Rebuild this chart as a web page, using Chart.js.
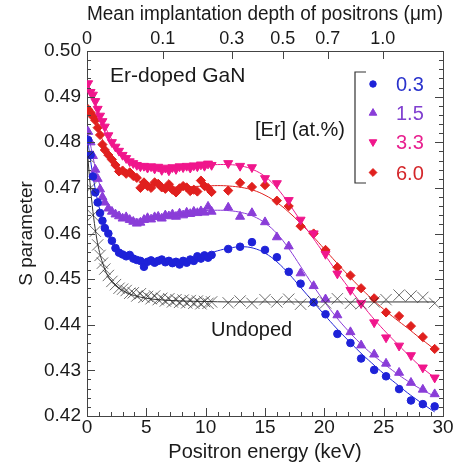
<!DOCTYPE html>
<html><head><meta charset="utf-8">
<script src="https://cdn.jsdelivr.net/npm/chart.js@4"></script>
<style>html,body{margin:0;padding:0;background:#fff}#c{display:block}</style>
</head><body>
<canvas id="c" width="466" height="466"></canvas>
<script>
// ---------- data ----------
const energies = [0.1,0.3,0.5,0.7,0.9,1.1,1.3,1.5,1.8,2.1,2.4,2.7,3.0,3.3,3.6,3.9,4.2,4.5,4.8,5.1,5.4,5.7,6.0,6.3,6.6,6.9,7.2,7.5,7.8,8.1,8.4,8.7,9.0,9.3,9.6,9.9,10.2,10.5,
  11.9,12.9,13.9,15.0,16.0,17.0,18.0,19.1,20.1,21.1,22.2,23.1,24.2,25.2,26.3,27.3,28.3,29.3];
const sEr03 = [0.4805,0.4772,0.4725,0.4690,0.4668,0.4645,0.4628,0.4612,0.4600,0.4584,0.4568,0.4558,0.4554,0.4550,0.4553,0.4545,0.4542,0.4540,0.4527,0.4538,0.4541,0.4536,0.4540,0.4543,0.4537,0.4540,0.4535,0.4538,0.4532,0.4540,0.4536,0.4543,0.4540,0.4550,0.4545,0.4552,0.4547,0.4553,
  0.4566,0.4571,0.4581,0.4564,0.4548,0.4516,0.4490,0.4449,0.4423,0.4380,0.4360,0.4326,0.4301,0.4287,0.4259,0.4234,0.4226,0.4221];
const sEr15 = [0.4823,0.4800,0.4770,0.4740,0.4720,0.4697,0.4680,0.4668,0.4655,0.4648,0.4642,0.4638,0.4633,0.4636,0.4630,0.4626,0.4622,0.4624,0.4630,0.4634,0.4631,0.4636,0.4637,0.4633,0.4640,0.4638,0.4642,0.4637,0.4644,0.4640,0.4646,0.4643,0.4648,0.4645,0.4649,0.4646,0.4659,0.4648,
  0.4657,0.4637,0.4645,0.4625,0.4592,0.4572,0.4513,0.4485,0.4456,0.4421,0.4384,0.4355,0.4335,0.4315,0.4295,0.4273,0.4258,0.4248];
const sEr33 = [0.4929,0.4910,0.4904,0.4890,0.4873,0.4858,0.4846,0.4834,0.4815,0.4800,0.4790,0.4781,0.4772,0.4765,0.4758,0.4754,0.4750,0.4747,0.4748,0.4744,0.4747,0.4742,0.4746,0.4739,0.4744,0.4738,0.4745,0.4741,0.4747,0.4745,0.4748,0.4744,0.4749,0.4747,0.4751,0.4748,0.4753,0.4750,
  0.4754,0.4748,0.4745,0.4721,0.4710,0.4673,0.4630,0.4600,0.4555,0.4512,0.4476,0.4447,0.4405,0.4372,0.4354,0.4333,0.4306,0.4284];
const sEr60 = [0.4872,0.4865,0.4856,0.4848,0.4832,0.4816,0.4795,0.4783,0.4772,0.4762,0.4750,0.4736,0.4738,0.4731,0.4734,0.4726,0.4722,0.4700,0.4712,0.4704,0.4700,0.4712,0.4709,0.4701,0.4698,0.4708,0.4696,0.4690,0.4699,0.4704,0.4701,0.4693,0.4696,0.4692,0.4716,0.4704,0.4700,0.4691,
  0.4694,0.4711,0.4702,0.4706,0.4672,0.4660,0.4616,0.4600,0.4564,0.4526,0.4508,0.4480,0.4458,0.4427,0.4419,0.4397,0.4373,0.4347];
const sUndoped = [0.4768,0.4700,0.4640,0.4605,0.4575,0.4552,0.4535,0.4522,0.4508,0.4495,0.4488,0.4480,0.4478,0.4475,0.4469,0.4470,0.4463,0.4468,0.4460,0.4462,0.4457,0.4463,0.4455,0.4458,0.4452,0.4457,0.4450,0.4455,0.4449,0.4454,0.4448,0.4453,0.4447,0.4452,0.4446,0.4451,0.4447,0.4450,
  0.4448,0.4452,0.4447,0.4455,0.4450,0.4456,0.4445,0.4451,0.4448,0.4457,0.4447,0.4446,0.4450,0.4455,0.4465,0.4463,0.4460,0.4447];

const fitEnergies = [0,0.5,1,1.5,2,3,4,5,6,7,8,9,10,11,12,13,14,15,16,17,18,19,20,21,22,23,24,25,26,27,28,29,29.3];
const fitEr03 = [0.4815,0.4727,0.4660,0.4617,0.4587,0.4557,0.4544,0.4539,0.4538,0.4539,0.4542,0.4547,0.4554,0.4562,0.4568,0.4571,0.4568,0.4557,0.4538,0.4512,0.4482,0.4452,0.4422,0.4393,0.4366,0.4340,0.4316,0.4293,0.4272,0.4251,0.4232,0.4214,0.4209];
const fitEr15 = [0.4835,0.4768,0.4713,0.4678,0.4656,0.4638,0.4632,0.4632,0.4635,0.4639,0.4643,0.4647,0.4650,0.4651,0.4650,0.4646,0.4638,0.4623,0.4600,0.4567,0.4528,0.4488,0.4451,0.4417,0.4387,0.4360,0.4336,0.4315,0.4295,0.4277,0.4261,0.4247,0.4243];
const fitEr33 = [0.4935,0.4900,0.4866,0.4836,0.4810,0.4773,0.4756,0.4748,0.4745,0.4745,0.4746,0.4748,0.4750,0.4751,0.4751,0.4748,0.4740,0.4725,0.4700,0.4666,0.4628,0.4592,0.4555,0.4518,0.4483,0.4450,0.4418,0.4389,0.4362,0.4336,0.4311,0.4290,0.4284];
const fitEr60 = [0.4880,0.4853,0.4823,0.4795,0.4770,0.4738,0.4720,0.4710,0.4705,0.4702,0.4702,0.4703,0.4704,0.4705,0.4704,0.4701,0.4695,0.4684,0.4668,0.4647,0.4622,0.4595,0.4566,0.4537,0.4509,0.4482,0.4457,0.4434,0.4413,0.4393,0.4372,0.4352,0.4345];
const fitUndopedEnergies = [0,0.25,0.5,0.75,1,1.5,2,3,4,5,6,8,10,12,29.3];
const fitUndoped = [0.4790,0.4712,0.4648,0.4600,0.4565,0.4522,0.4497,0.4475,0.4464,0.4458,0.4455,0.4452,0.4451,0.4450,0.4450];

const depthTickEnergies = [0,6.38,12.19,16.49,20.28,24.92];
const depthTickLabels = ['0','0.1','0.3','0.5','0.7','1.0'];
const legendLabels = ['0.3','1.5','3.3','6.0'];

// ---------- styling ----------
const FONT = "'Liberation Sans', Arial, Helvetica, sans-serif";
const TXT = '#1a1a1a';
const AX = '#444';
const cBlue = '#1e22d8', cPurple = '#8a3dd8', cMag = '#f0168c', cRed = '#e0201e', cBlack = '#333333';
const legendTextColors = ['#2a33cc','#8040d0','#e8208f','#d4262a'];

const pts = (xs, ys) => xs.map((x, i) => ({x, y: ys[i]}));

const markerStyles = [
  {pointStyle:'circle', radius:3.8, rotation:0, backgroundColor:cBlue, borderColor:cBlue, borderWidth:1},
  {pointStyle:'triangle', radius:5.2, rotation:0, backgroundColor:cPurple, borderColor:cPurple, borderWidth:1},
  {pointStyle:'triangle', radius:5.2, rotation:180, backgroundColor:cMag, borderColor:cMag, borderWidth:1},
  {pointStyle:'rectRot', radius:4.6, rotation:0, backgroundColor:cRed, borderColor:cRed, borderWidth:1}
];

function fitSet(xs, ys, color, mono) {
  return {data: pts(xs, ys), showLine: true, pointRadius: 0, borderColor: color, borderWidth: 1,
          tension: 0.4, cubicInterpolationMode: mono ? 'monotone' : 'default', fill: false, order: 2};
}
function pointSet(ys, m) {
  return {data: pts(energies, ys), showLine: false, pointStyle: m.pointStyle, pointRadius: m.radius,
          pointRotation: m.rotation, backgroundColor: m.backgroundColor, borderColor: m.borderColor,
          pointBorderWidth: m.borderWidth, order: 1};
}

const datasets = [
  fitSet(fitUndopedEnergies, fitUndoped, cBlack, true),
  fitSet(fitEnergies, fitEr03, cBlue),
  fitSet(fitEnergies, fitEr15, cPurple),
  fitSet(fitEnergies, fitEr33, cMag),
  fitSet(fitEnergies, fitEr60, cRed),
  {data: pts(energies, sUndoped), showLine:false, pointStyle:'crossRot', pointRadius:8,
   borderColor:'rgba(40,40,40,0.85)', backgroundColor:'rgba(40,40,40,0.85)', pointBorderWidth:0.8, order:1},
  pointSet(sEr03, markerStyles[0]),
  pointSet(sEr15, markerStyles[1]),
  pointSet(sEr33, markerStyles[2]),
  pointSet(sEr60, markerStyles[3])
];

const decorations = {
  id: 'decorations',
  afterDraw(chart) {
    const {ctx, chartArea: a, scales} = chart;
    const X = scales.x, Y = scales.y;
    ctx.save();
    ctx.strokeStyle = AX; ctx.lineWidth = 1;
    ctx.beginPath();
    // bottom axis ticks (inward)
    for (let k = 0; k <= 30; k++) {
      const px = Math.round(X.getPixelForValue(k)) + 0.5;
      const L = k % 5 === 0 ? 8 : 4;
      ctx.moveTo(px, a.bottom); ctx.lineTo(px, a.bottom - L);
    }
    // top axis ticks at depth positions
    depthTickEnergies.forEach(e => {
      const px = Math.round(X.getPixelForValue(e)) + 0.5;
      ctx.moveTo(px, a.top); ctx.lineTo(px, a.top + 8);
    });
    // left & right ticks
    for (let k = 0; k <= 40; k++) {
      const v = 0.42 + k * 0.002;
      const py = Math.round(Y.getPixelForValue(v)) + 0.5;
      const L = k % 5 === 0 ? 8 : 4;
      ctx.moveTo(a.left, py); ctx.lineTo(a.left + L, py);
      ctx.moveTo(a.right, py); ctx.lineTo(a.right - L, py);
    }
    ctx.stroke();

    // annotations
    ctx.fillStyle = TXT;
    ctx.textBaseline = 'middle';
    ctx.textAlign = 'left';
    ctx.font = '21px ' + FONT;
    ctx.fillText('Er-doped GaN', 110, 76);
    ctx.font = '20px ' + FONT;
    ctx.fillText('[Er] (at.%)', 255, 130);
    ctx.fillText('Undoped', 211, 330);

    // legend bracket
    ctx.strokeStyle = '#333'; ctx.lineWidth = 1.2;
    ctx.beginPath();
    ctx.moveTo(366, 72); ctx.lineTo(355, 72); ctx.lineTo(355, 183); ctx.lineTo(366, 183);
    ctx.stroke();
    const ly = [84, 113, 142, 172.5];
    ctx.font = '20px ' + FONT;
    legendLabels.forEach((lab, i) => {
      const m = markerStyles[i];
      ctx.fillStyle = m.backgroundColor; ctx.strokeStyle = m.borderColor; ctx.lineWidth = 1;
      Chart.helpers.drawPoint(ctx, {pointStyle: m.pointStyle, radius: m.radius * 0.85, rotation: m.rotation, borderWidth: 1}, 373, ly[i]);
      ctx.fillStyle = legendTextColors[i];
      ctx.fillText(lab, 396, ly[i] + 1.5);
    });
    ctx.restore();
  }
};

Chart.defaults.font.family = FONT;
Chart.defaults.color = TXT;

new Chart(document.getElementById('c'), {
  type: 'scatter',
  data: {datasets},
  options: {
    responsive: false, animation: false, devicePixelRatio: 1,
    layout: {padding: 0},
    plugins: {legend: {display: false}, tooltip: {enabled: false}},
    scales: {
      x: {
        type: 'linear', position: 'bottom', min: 0, max: 30,
        ticks: {stepSize: 5, font: {size: 19}, color: TXT, padding: 0, maxRotation: 0},
        grid: {display: false, drawTicks: false},
        border: {display: true, color: AX, width: 1},
        title: {display: true, text: 'Positron energy (keV)', font: {size: 20}, color: TXT, padding: {top: 2, bottom: 2}},
        afterFit: s => { s.height = 50; }
      },
      x2: {
        type: 'linear', position: 'top', min: 0, max: 30,
        afterBuildTicks: s => { s.ticks = depthTickEnergies.map(v => ({value: v})); },
        ticks: {autoSkip: false, maxRotation: 0, font: {size: 18}, color: TXT, padding: 1,
                callback: (v, i) => depthTickLabels[i]},
        grid: {display: false, drawTicks: false},
        border: {display: true, color: AX, width: 1},
        title: {display: true, text: 'Mean implantation depth of positrons (\u03bcm)', font: {size: 20}, color: TXT, padding: {top: 2, bottom: 0}},
        afterFit: s => { s.height = 51; }
      },
      y: {
        type: 'linear', position: 'left', min: 0.42, max: 0.50,
        ticks: {stepSize: 0.01, font: {size: 19}, color: TXT, padding: 6, callback: v => v.toFixed(2)},
        grid: {display: false, drawTicks: false},
        border: {display: true, color: AX, width: 1},
        title: {display: true, text: 'S parameter', font: {size: 19}, color: TXT, padding: {top: 15, bottom: 0}},
        afterFit: s => { s.width = 87; }
      },
      yR: {
        type: 'linear', position: 'right', min: 0.42, max: 0.50,
        ticks: {display: false},
        grid: {display: false, drawTicks: false},
        border: {display: true, color: AX, width: 1},
        afterFit: s => { s.width = 23; }
      }
    }
  },
  plugins: [decorations]
});
</script>
</body></html>
